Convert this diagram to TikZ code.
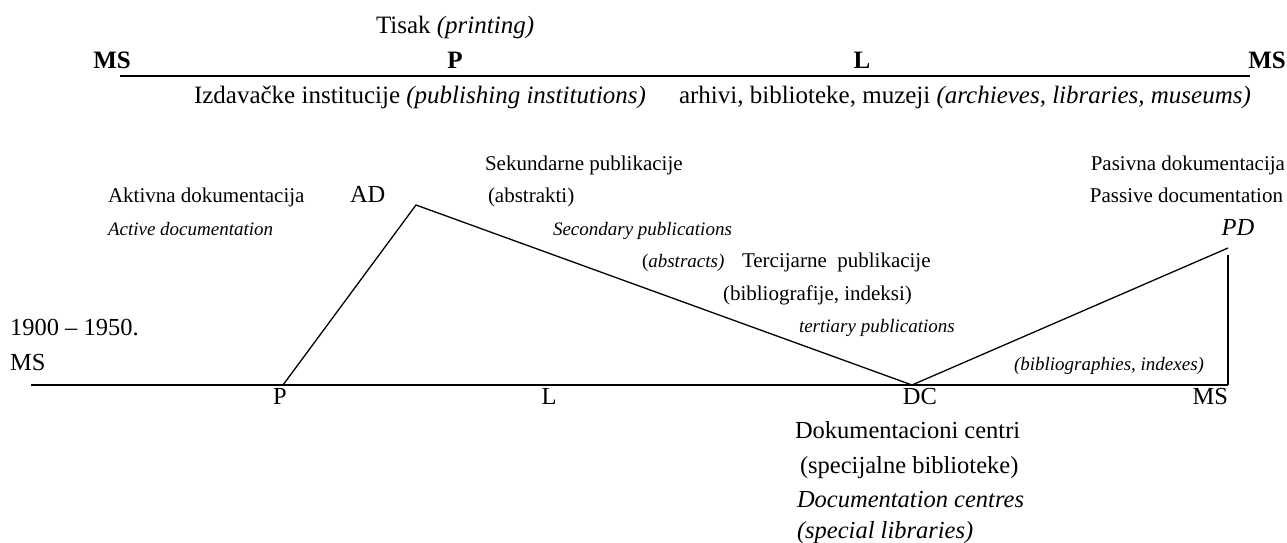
\documentclass[tikz,border=0pt]{standalone}
\usepackage{fontspec}
\setmainfont{Liberation Serif}
\begin{document}
\begin{tikzpicture}[x=1pt,y=-1pt,
  every node/.style={inner sep=0pt,outer sep=0pt},
  toptxt/.style={font=\fontsize{25}{30}\selectfont},
  topbold/.style={font=\fontsize{25}{30}\selectfont\bfseries},
  midtxt/.style={font=\fontsize{21}{25}\selectfont},
  midit/.style={font=\fontsize{19}{23}\selectfont\itshape},
  bigtxt/.style={font=\fontsize{24.5}{29}\selectfont},
  hline/.style={line width=1.6pt},
  sline/.style={line width=1.3pt}]
\useasboundingbox (0,0) rectangle (1287,542);
% ---------- top timeline ----------
\node[toptxt,anchor=base west] (tisak) at (376,33) {Tisak \textit{(printing)}};
\node[topbold,anchor=base] (tMSl) at (112,68) {MS};
\node[topbold,anchor=base] (tP) at (455,68) {P};
\node[topbold,anchor=base] (tL) at (862,68) {L};
\node[topbold,anchor=base] (tMSr) at (1267,68) {MS};
\coordinate (tla) at (120,76);
\coordinate (tlb) at (1250,76);
\draw[hline] (tla) -- (tlb);
\node[toptxt,anchor=base west] (izd) at (194,103) {Izdavačke institucije \textit{(publishing institutions)}};
\node[toptxt,anchor=base west] (arh) at (679,103) {arhivi, biblioteke, muzeji \textit{(archieves, libraries, museums)}};
% ---------- lower diagram ----------
\coordinate (bla) at (31,385);
\coordinate (vP) at (283,385);
\coordinate (vAD) at (416,205);
\coordinate (vDC) at (912,385);
\coordinate (vPD) at (1228,248);
\coordinate (vPDb) at (1228,255);
\coordinate (vMS) at (1228,385);
\draw[hline] (bla) -- (vMS);
\draw[sline] (vP) -- (vAD) -- (vDC) -- (vPD);
\draw[sline] (vPDb) -- (vMS);
% labels
\node[midtxt,anchor=base west] (akt) at (108,202) {Aktivna dokumentacija};
\node[midit,anchor=base west] (act) at (108,235) {Active documentation};
\node[bigtxt,anchor=base west] (AD) at (350,202) {AD};
\node[midtxt,anchor=base west] (sek) at (485,170) {Sekundarne publikacije};
\node[midtxt,anchor=base west] (abk) at (488,202) {(abstrakti)};
\node[midit,anchor=base west] (sec) at (553,235) {Secondary publications};
\node[midit,anchor=base west] (abs) at (642,267) {\upshape(\itshape abstracts)};
\node[midtxt,anchor=base west] (ter) at (742,267) {Tercijarne~ publikacije};
\node[midtxt,anchor=base west] (bib) at (723,300) {(bibliografije, indeksi)};
\node[midit,anchor=base west] (tert) at (799,332) {tertiary publications};
\node[midit,anchor=base west] (bibe) at (1014,370) {(bibliographies, indexes)};
\node[midtxt,anchor=base east] (pas) at (1285,170) {Pasivna dokumentacija};
\node[midtxt,anchor=base east] (pase) at (1283,202) {Passive documentation};
\node[bigtxt,anchor=base,font=\fontsize{24.5}{29}\selectfont\itshape] (PD) at (1238,235) {PD};
\node[bigtxt,anchor=base west] (yrs) at (10,335) {1900 – 1950.};
\node[bigtxt,anchor=base west] (bMSl) at (10,370) {MS};
\node[bigtxt,anchor=base] (bP) at (280,404) {P};
\node[bigtxt,anchor=base] (bL) at (549,404) {L};
\node[bigtxt,anchor=base] (bDC) at (920,404) {DC};
\node[bigtxt,anchor=base east] (bMSr) at (1228,404) {MS};
\node[bigtxt,anchor=base west] (dok) at (795,438) {Dokumentacioni centri};
\node[bigtxt,anchor=base west] (spec) at (800,473) {(specijalne biblioteke)};
\node[bigtxt,anchor=base west,font=\fontsize{24.5}{29}\selectfont\itshape] (docc) at (797,507) {Documentation centres};
\node[bigtxt,anchor=base west,font=\fontsize{24.5}{29}\selectfont\itshape] (spl) at (797,538) {(special libraries)};
\end{tikzpicture}
\end{document}
